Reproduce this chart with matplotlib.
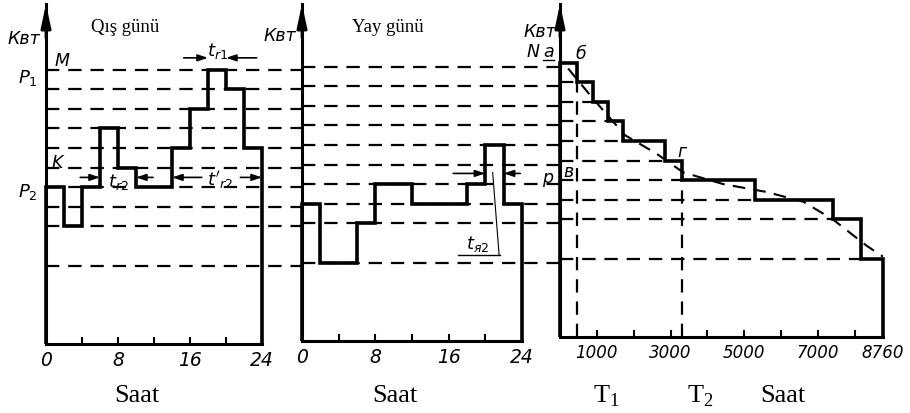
import matplotlib.pyplot as plt

# qış günü: saat sərhədləri və yük səviyyələri
qis_saat = [0, 2, 4, 6, 8, 10, 14, 16, 18, 20, 22, 24]
qis_yuk = [8, 6, 8, 11, 9, 8, 10, 12, 14, 13, 10]
# yay günü
yay_saat = [0, 2, 6, 8, 12, 18, 20, 22, 24]
yay_yuk = [7, 4, 6, 8, 7, 8, 10, 7]
# illik davamlılıq qrafiki
il_saat = [0, 450, 900, 1300, 1700, 2850, 3300, 5300, 7400, 8150, 8760]
il_yuk = [14, 13, 12, 11, 10, 9, 8, 7, 6, 4]
# hamarlanmış əyri (qırıq xətt)
hamar_saat = [220, 900, 1760, 2620, 3340, 4430, 5600, 6600, 7400, 8320, 8760]
hamar_yuk = [13.7, 12.15, 10.3, 9.35, 8.4, 7.8, 7.4, 6.9, 6.0, 4.65, 4.1]
seviyyeler = [4, 6, 7, 8, 9, 10, 11, 12, 13, 14]
T1, T2 = 450, 3300

W, H = 910, 414
PX = 19.6  # bir səviyyə = 19.6 px
plt.rcParams['mathtext.fontset'] = 'dejavusans'
fig = plt.figure(figsize=(9.1, 4.14), dpi=100)

def panel(x0, x1, y0, y1=5):
    ax = fig.add_axes([x0 / W, 1 - y0 / H, (x1 - x0) / W, (y0 - y1) / H])
    ax.set_ylim(0, (y0 - y1) / PX)
    ax.set_facecolor('none')
    for s in ['top', 'right']:
        ax.spines[s].set_visible(False)
    for s in ['left', 'bottom']:
        ax.spines[s].set_linewidth(2.2)
    ax.set_yticks([])
    ax.tick_params(axis='x', direction='in', length=5, width=1.5, pad=4)
    ax.annotate('', xy=(0, 1.0), xycoords='axes fraction', xytext=(0, 0.9),
                arrowprops=dict(arrowstyle='-|>,head_length=1.4,head_width=0.3',
                                lw=2, color='k', shrinkA=0, shrinkB=0))
    return ax

ax1 = panel(46, 262, 345)
ax2 = panel(302, 522, 342)
ax3 = panel(560, 883, 338)
ax1.set_xlim(0, 24)
ax2.set_xlim(0, 24)
ax3.set_xlim(0, 8760)

dash = (0, (6, 4))
tick_font = dict(family='DejaVu Sans', style='italic', size=13.5)
tick_font3 = dict(family='DejaVu Sans', style='italic', size=12)
lab_font = dict(family='DejaVu Sans', style='italic', size=12.5)

# qış
ax1.hlines(seviyyeler, 0, 24 + 40 / 9, colors='k', lw=1.6, linestyles=dash, clip_on=False)
ax1.stairs(qis_yuk, qis_saat, baseline=0, color='k', lw=2.6, clip_on=False)
ax1.set_xticks(range(0, 25, 4), ['0', '', '8', '', '16', '', '24'], **tick_font)

# yay
ax2.hlines(seviyyeler, 0, 24 + 38 / 9.17, colors='k', lw=1.6, linestyles=dash, clip_on=False)
ax2.stairs(yay_yuk, yay_saat, baseline=0, color='k', lw=2.6, clip_on=False)
ax2.set_xticks(range(0, 25, 4), ['0', '', '8', '', '16', '', '24'], **tick_font)

# illik
for i, p in enumerate(il_yuk):
    if p in seviyyeler and il_saat[i] > 0:
        ax3.hlines(p, 0, il_saat[i], colors='k', lw=1.6, linestyles=dash)
ax3.stairs(il_yuk, il_saat, baseline=0, color='k', lw=2.6, clip_on=False)
ax3.vlines([T1, T2], 0, [13, 9], colors='k', lw=1.6, linestyles=dash)
ax3.plot(hamar_saat, hamar_yuk, color='k', lw=1.5, linestyle=dash)
ax3.set_xticks(list(range(1000, 9000, 1000)) + [8760],
               ['1000', '', '3000', '', '5000', '', '7000', '', '8760'], **tick_font3)

# işarələr
for ax, x in [(ax1, -2.4), (ax2, -2.4), (ax3, -540)]:
    ax.text(x, 15.6, 'Квт', ha='center', va='center', **lab_font)
ax1.text(1.8, 14.5, 'M', ha='center', va='center', **lab_font)
ax1.text(-2.0, 13.6, r'$P_1$', ha='center', va='center', size=13)
ax1.text(1.3, 9.3, 'K', ha='center', va='center', **lab_font)
ax1.text(-2.0, 7.8, r'$P_2$', ha='center', va='center', size=13)

arr = dict(arrowstyle='-|>,head_length=0.6,head_width=0.2', lw=1.2, color='k', shrinkA=0, shrinkB=0)
ax1.text(19.1, 15.0, r'$t_{r1}$', ha='center', va='center', size=13)
ax1.annotate('', xy=(18, 14.6), xytext=(15.3, 14.6), arrowprops=arr)
ax1.annotate('', xy=(20, 14.6), xytext=(23.4, 14.6), arrowprops=arr)
ax1.text(8, 8.3, r'$t_{r2}$', ha='center', va='center', size=13)
ax1.annotate('', xy=(6, 8.5), xytext=(3.8, 8.5), arrowprops=arr)
ax1.annotate('', xy=(10, 8.5), xytext=(11.9, 8.5), arrowprops=arr)
ax1.text(19.3, 8.4, r"$t'_{r2}$", ha='center', va='center', size=13)
ax1.annotate('', xy=(14, 8.5), xytext=(17.3, 8.5), arrowprops=arr)
ax1.annotate('', xy=(24, 8.5), xytext=(21.6, 8.5), arrowprops=arr)

ax2.text(19.2, 5.0, r'$t_{я2}$', ha='center', va='center', size=13)
ax2.plot([17.0, 21.6], [4.4, 4.4], color='k', lw=1)
ax2.plot([20.8, 21.5], [8.6, 4.4], color='k', lw=0.8)
ax2.annotate('', xy=(20, 8.55), xytext=(16.5, 8.55), arrowprops=arr)
ax2.annotate('', xy=(22, 8.55), xytext=(23.8, 8.55), arrowprops=arr)
ax2.text(26.8, 8.35, 'p', ha='center', va='center', **lab_font)

ax3.text(-730, 14.6, 'N', ha='center', va='center', **lab_font)
ax3.text(-320, 14.6, 'a', ha='center', va='center', **lab_font)
ax3.plot([-470, -170], [14.15, 14.15], color='k', lw=1, clip_on=False)
ax3.text(560, 14.5, 'б', ha='center', va='center', **lab_font)
ax3.text(3310, 9.5, 'г', ha='center', va='center', **lab_font)
ax3.text(230, 8.45, 'в', ha='center', va='center', **lab_font)

# başlıqlar və alt yazılar
serif = dict(family='Liberation Serif', ha='center', va='center')
fig.text(125 / W, 1 - 27 / H, 'Qış günü', size=13.5, **serif)
fig.text(388 / W, 1 - 27 / H, 'Yay günü', size=13.5, **serif)
for x, t in [(137, 'Saat'), (395, 'Saat'), (783, 'Saat'),
             (606, r'T$_\mathregular{1}$'), (700, r'T$_\mathregular{2}$')]:
    fig.text(x / W, 1 - 396 / H, t, size=19, **serif)

fig.savefig('out.png', dpi=100)
